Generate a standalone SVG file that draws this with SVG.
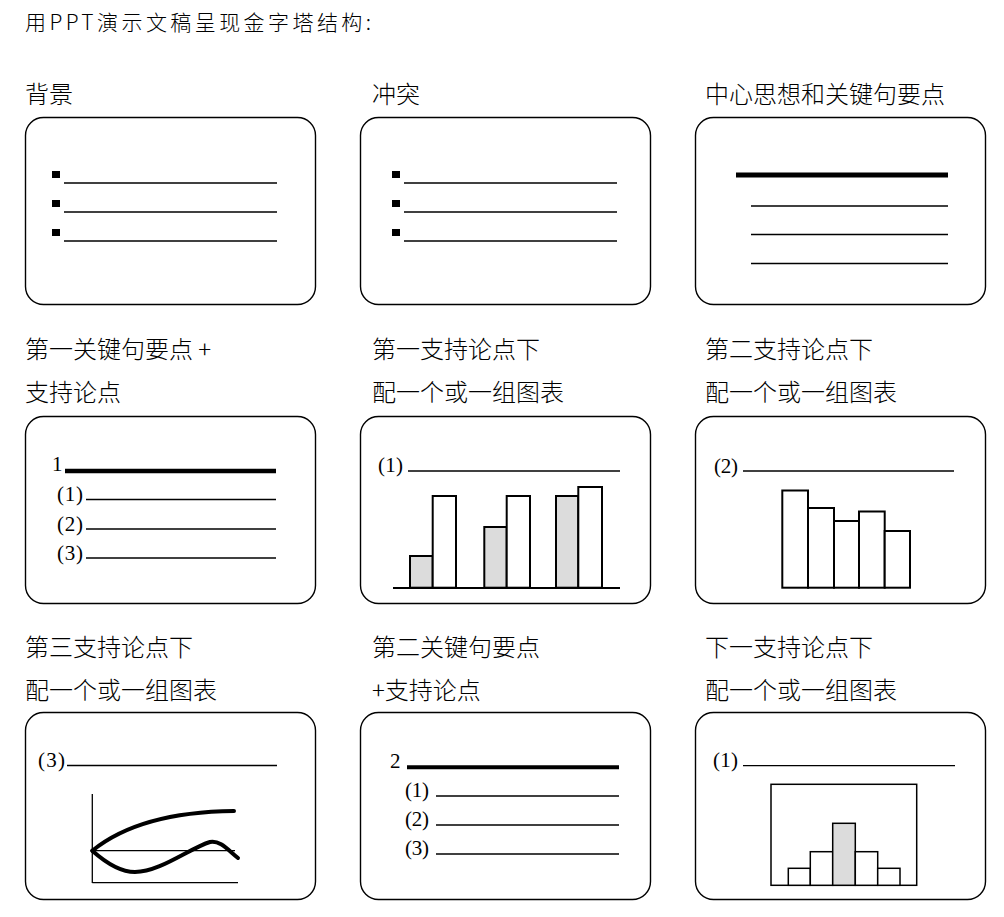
<svg xmlns="http://www.w3.org/2000/svg" width="1004" height="917" viewBox="0 0 1004 917">
<style>
.lbl{font-family:"Noto Sans CJK SC","Noto Sans",sans-serif;font-size:24px;font-weight:300;fill:#000;}
.num{font-family:"Liberation Serif",serif;font-size:21px;fill:#000;}
.frame{fill:#fff;stroke:#000;stroke-width:1.4;}
.thin{stroke:#000;stroke-width:1.3;fill:none;}
.thick{stroke:#000;stroke-width:4.5;fill:none;}
.bar{fill:#fff;stroke:#000;stroke-width:2;}
.gbar{fill:#dcdcdc;stroke:#000;stroke-width:2;}
.curve{stroke:#000;stroke-width:4;fill:none;stroke-linecap:round;}
</style>
<rect width="1004" height="917" fill="#fff"/>
<text id="title" x="25" y="30" class="lbl" style="font-size:21px" textLength="346" lengthAdjust="spacing">用PPT演示文稿呈现金字塔结构:</text>

<g id="panel1">
  <text class="lbl" x="25" y="103">背景</text>
  <rect class="frame" x="25.5" y="117.5" width="290" height="187" rx="18"/>
  <rect x="52" y="171" width="8" height="7"/>
  <rect x="52" y="200" width="8" height="7"/>
  <rect x="52" y="229" width="8" height="7"/>
  <line class="thin" x1="64" y1="183" x2="277" y2="183"/>
  <line class="thin" x1="64" y1="212" x2="277" y2="212"/>
  <line class="thin" x1="64" y1="241" x2="277" y2="241"/>
</g>

<g id="panel2">
  <text class="lbl" x="372" y="103">冲突</text>
  <rect class="frame" x="360.5" y="117.5" width="290" height="187" rx="18"/>
  <rect x="392" y="171" width="8" height="7"/>
  <rect x="392" y="200" width="8" height="7"/>
  <rect x="392" y="229" width="8" height="7"/>
  <line class="thin" x1="404" y1="183" x2="617" y2="183"/>
  <line class="thin" x1="404" y1="212" x2="617" y2="212"/>
  <line class="thin" x1="404" y1="241" x2="617" y2="241"/>
</g>

<g id="panel3">
  <text class="lbl" x="705" y="103">中心思想和关键句要点</text>
  <rect class="frame" x="695.5" y="117.5" width="290" height="187" rx="18"/>
  <line x1="736" y1="175" x2="948" y2="175" stroke="#000" stroke-width="5"/>
  <line class="thin" x1="751" y1="206" x2="948" y2="206"/>
  <line class="thin" x1="751" y1="234.5" x2="948" y2="234.5"/>
  <line class="thin" x1="751" y1="263.5" x2="948" y2="263.5"/>
</g>

<g id="panel4">
  <text class="lbl" x="25" y="358">第一关键句要点 +</text>
  <text class="lbl" x="25" y="401">支持论点</text>
  <rect class="frame" x="25.5" y="416.5" width="290" height="187" rx="18"/>
  <text class="num" x="52" y="471">1</text>
  <line class="thick" x1="65" y1="471" x2="276" y2="471"/>
  <text class="num" x="57" y="501" textLength="26" lengthAdjust="spacing">(1)</text>
  <line class="thin" x1="86" y1="499.5" x2="276" y2="499.5"/>
  <text class="num" x="57" y="531" textLength="26" lengthAdjust="spacing">(2)</text>
  <line class="thin" x1="86" y1="529" x2="276" y2="529"/>
  <text class="num" x="57" y="560" textLength="26" lengthAdjust="spacing">(3)</text>
  <line class="thin" x1="86" y1="558" x2="276" y2="558"/>
</g>

<g id="panel5">
  <text class="lbl" x="372" y="358">第一支持论点下</text>
  <text class="lbl" x="372" y="401">配一个或一组图表</text>
  <rect class="frame" x="360.5" y="416.5" width="290" height="187" rx="18"/>
  <text class="num" x="378" y="472" textLength="25" lengthAdjust="spacing">(1)</text>
  <line class="thin" x1="408" y1="471" x2="620" y2="471"/>
  <rect class="gbar" x="410" y="556" width="22.7" height="31.7"/>
  <rect class="bar" x="432.7" y="496" width="23.3" height="91.7"/>
  <rect class="gbar" x="484.3" y="527" width="22.4" height="60.7"/>
  <rect class="bar" x="506.7" y="496" width="23.3" height="91.7"/>
  <rect class="gbar" x="556" y="496" width="22.3" height="91.7"/>
  <rect class="bar" x="578.3" y="487" width="23.7" height="100.7"/>
  <line x1="393" y1="588" x2="620" y2="588" stroke="#000" stroke-width="2"/>
</g>

<g id="panel6">
  <text class="lbl" x="705" y="358">第二支持论点下</text>
  <text class="lbl" x="705" y="401">配一个或一组图表</text>
  <rect class="frame" x="695.5" y="416.5" width="290" height="187" rx="18"/>
  <text class="num" x="714" y="473" textLength="24" lengthAdjust="spacing">(2)</text>
  <line class="thin" x1="743" y1="471" x2="954" y2="471"/>
  <rect class="bar" x="782.3" y="490.5" width="25.7" height="97.2"/>
  <rect class="bar" x="808" y="508" width="26" height="79.7"/>
  <rect class="bar" x="834" y="521" width="25" height="66.7"/>
  <rect class="bar" x="859" y="511.5" width="25.7" height="76.2"/>
  <rect class="bar" x="884.7" y="531" width="25.3" height="56.7"/>
</g>

<g id="panel7">
  <text class="lbl" x="25" y="656">第三支持论点下</text>
  <text class="lbl" x="25" y="699">配一个或一组图表</text>
  <rect class="frame" x="25.5" y="712.5" width="290" height="187" rx="18"/>
  <text class="num" x="38" y="767" textLength="27" lengthAdjust="spacing">(3)</text>
  <line class="thin" x1="67" y1="765.5" x2="277" y2="765.5"/>
  <line class="thin" x1="92.3" y1="794" x2="92.3" y2="883"/>
  <line class="thin" x1="92.3" y1="882.7" x2="238" y2="882.7"/>
  <line class="thin" x1="92.3" y1="850.7" x2="235" y2="850.7"/>
  <path class="curve" d="M92.3,850.7 Q140,812 234,811"/>
  <path class="curve" d="M92.3,850.7 C105,862 120,872 135,872 C160,872 190,848 210,842 C220,840 228,850 238,858"/>
</g>

<g id="panel8">
  <text class="lbl" x="372" y="656">第二关键句要点</text>
  <text class="lbl" x="372" y="699">+支持论点</text>
  <rect class="frame" x="360.5" y="712.5" width="290" height="187" rx="18"/>
  <text class="num" x="390" y="768">2</text>
  <line x1="407" y1="767.3" x2="619" y2="767.3" stroke="#000" stroke-width="4"/>
  <text class="num" x="405" y="797" textLength="24" lengthAdjust="spacing">(1)</text>
  <line class="thin" x1="436" y1="796" x2="619" y2="796"/>
  <text class="num" x="405" y="826" textLength="24" lengthAdjust="spacing">(2)</text>
  <line class="thin" x1="436" y1="825" x2="619" y2="825"/>
  <text class="num" x="405" y="855" textLength="24" lengthAdjust="spacing">(3)</text>
  <line class="thin" x1="436" y1="854" x2="619" y2="854"/>
</g>

<g id="panel9">
  <text class="lbl" x="705" y="656">下一支持论点下</text>
  <text class="lbl" x="705" y="699">配一个或一组图表</text>
  <rect class="frame" x="695.5" y="712.5" width="290" height="187" rx="18"/>
  <text class="num" x="713" y="767" textLength="25" lengthAdjust="spacing">(1)</text>
  <line class="thin" x1="743" y1="765.7" x2="955" y2="765.7"/>
  <rect x="771" y="784.3" width="145.7" height="101" fill="#fff" stroke="#000" stroke-width="1.5"/>
  <rect x="788.3" y="868.3" width="22" height="17" fill="#fff" stroke="#000" stroke-width="1.5"/>
  <rect x="810.3" y="851.7" width="22.4" height="33.6" fill="#fff" stroke="#000" stroke-width="1.5"/>
  <rect x="832.7" y="823.3" width="22.6" height="62" fill="#dcdcdc" stroke="#000" stroke-width="1.5"/>
  <rect x="855.3" y="851.7" width="22.4" height="33.6" fill="#fff" stroke="#000" stroke-width="1.5"/>
  <rect x="877.7" y="868.3" width="22.3" height="17" fill="#fff" stroke="#000" stroke-width="1.5"/>
</g>
</svg>
